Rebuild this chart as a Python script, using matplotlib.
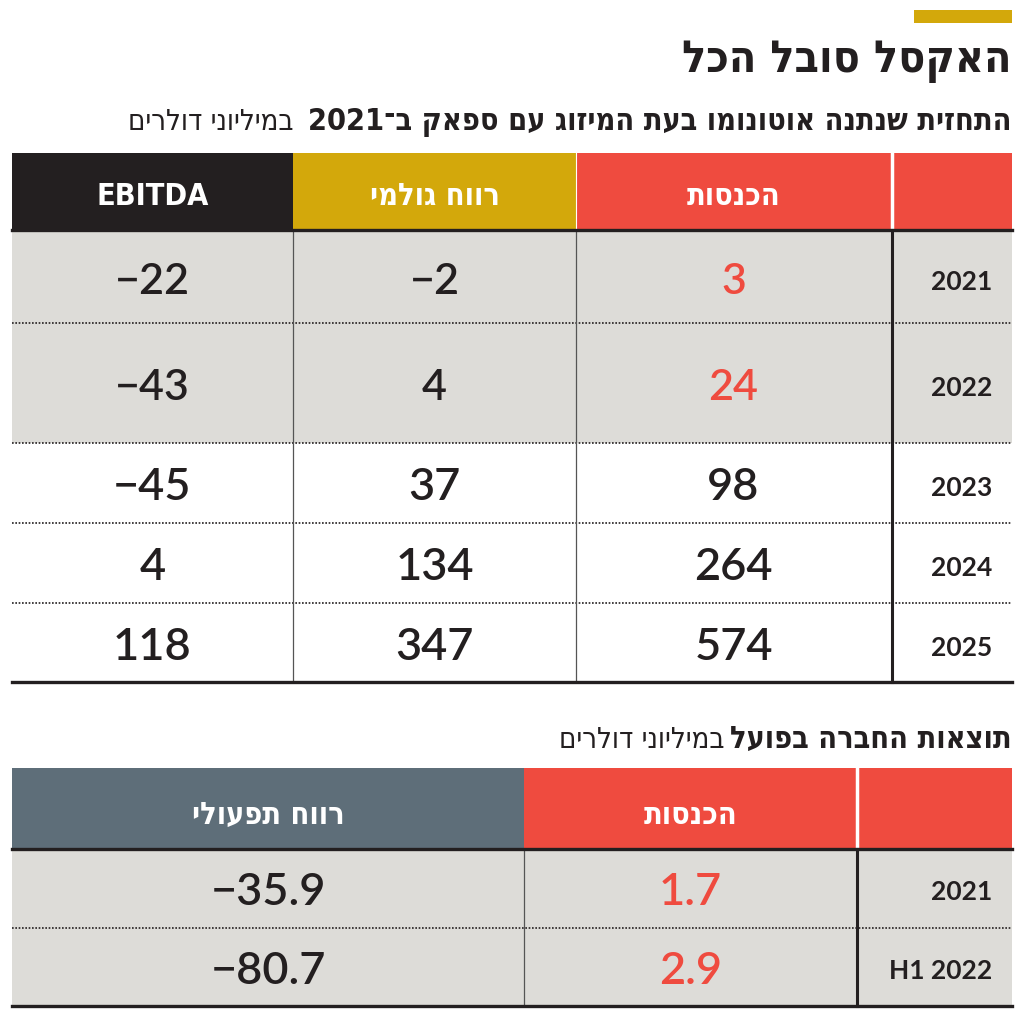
import re
import matplotlib
matplotlib.use("Agg")
import matplotlib.pyplot as plt
from matplotlib.patches import Rectangle

title = "האקסל סובל הכל"
forecast_title = "התחזית שנתנה אוטונומו בעת המיזוג עם ספאק ב־2021"
unit_note = "במיליוני דולרים"
forecast_years = ["2021", "2022", "2023", "2024", "2025"]
forecast_cols = ["הכנסות", "רווח גולמי", "EBITDA"]
revenue = [3, 24, 98, 264, 574]
gross_profit = [-2, 4, 37, 134, 347]
ebitda = [-22, -43, -45, 4, 118]

actual_title = "תוצאות החברה בפועל"
actual_periods = ["2021", "H1 2022"]
actual_cols = ["הכנסות", "רווח תפעולי"]
actual_revenue = [1.7, 2.9]
operating_profit = [-35.9, -80.7]

RED = "#ef4b3f"
GOLD = "#d3a80b"
BLACK = "#231f20"
GRAY = "#dddcd8"
SLATE = "#5e6e79"

HEB = ["DejaVu Sans"]
NUM = ["Lato", "DejaVu Sans"]


def vis(s):
    # crude bidi: flip the line, then put digit/latin runs back in order
    if not re.search("[\u0590-\u05ff]", s):
        return s
    r = s[::-1]
    return re.sub(r"[0-9A-Za-z.,\u2212]+", lambda m: m.group(0)[::-1], r)


def fmt(v):
    return ("%g" % v).replace("-", "\u2212")


fig = plt.figure(figsize=(10.24, 10.17), dpi=100)
ax = fig.add_axes([0, 0, 1, 1])
ax.set_xlim(0, 1024)
ax.set_ylim(1017, 0)
ax.axis("off")

# top accent + headings
ax.add_patch(Rectangle((914, 10), 98, 13, color=GOLD, lw=0))
ax.text(1012, 72, vis(title), ha="right", va="baseline", fontsize=32,
        fontweight="bold", family=HEB, fontstretch="condensed", color=BLACK)
t1 = ax.text(1012, 130, vis(forecast_title), ha="right", va="baseline", fontsize=22,
             fontweight="bold", family=HEB, fontstretch="condensed", color=BLACK)
fig.canvas.draw()
bb = t1.get_window_extent()
ax.text(bb.x0 - 15, 130, vis(unit_note), ha="right", va="baseline", fontsize=21,
        family=HEB, fontstretch="condensed", color=BLACK)

# ---- forecast table ----
xe = [12, 293, 576, 891, 1012]
row_edges = [230, 323, 443, 523, 603, 682]
head_top = 153

# header cells (ebitda, gross, revenue, year)
head_colors = [BLACK, GOLD, RED, RED]
for i in range(4):
    ax.add_patch(Rectangle((xe[i], head_top), xe[i + 1] - xe[i], row_edges[0] - head_top,
                           color=head_colors[i], lw=0))
ax.plot([576, 576], [head_top, row_edges[0]], color="white", lw=0.8)
ax.plot([891.5, 891.5], [head_top, row_edges[0]], color="white", lw=2.5)
labels = forecast_cols[::-1]
for i in range(3):
    ax.text((xe[i] + xe[i + 1]) / 2, 205, vis(labels[i]), ha="center", va="baseline",
            fontsize=22, fontweight="bold", family=HEB, fontstretch="condensed",
            color="white")

cols = [ebitda, gross_profit, revenue]
for r in range(len(forecast_years)):
    y0, y1 = row_edges[r], row_edges[r + 1]
    yc = (y0 + y1) / 2
    if r < 2:
        ax.add_patch(Rectangle((12, y0), 1000, y1 - y0, color=GRAY, lw=0))
    size = 31 if r < 2 else 32.5
    for c in range(3):
        col = RED if (c == 2 and r < 2) else BLACK
        ax.text((xe[c] + xe[c + 1]) / 2, yc + 17, fmt(cols[c][r]), ha="center",
                va="baseline", fontsize=size, family=NUM, fontweight="semibold", color=col)
    ax.text(992, yc + 13, forecast_years[r], ha="right", va="baseline", fontsize=19,
            family=NUM, fontweight="bold", color=BLACK)
    if r < len(forecast_years) - 1:
        ax.plot([12, 1012], [y1, y1], color=BLACK, lw=1.2, ls=(0, (1, 1)))

ax.plot([293, 293], [row_edges[0], row_edges[-1]], color="#555555", lw=0.9)
ax.plot([576, 576], [row_edges[0], row_edges[-1]], color="#555555", lw=0.9)
ax.plot([891.5, 891.5], [row_edges[0], row_edges[-1]], color=BLACK, lw=2.2)
ax.plot([12, 1012], [row_edges[0], row_edges[0]], color=BLACK, lw=2.4)
ax.plot([12, 1012], [row_edges[-1], row_edges[-1]], color=BLACK, lw=2.4)

# ---- actual results table ----
t2 = ax.text(1012, 748, vis(actual_title), ha="right", va="baseline", fontsize=22,
             fontweight="bold", family=HEB, fontstretch="condensed", color=BLACK)
fig.canvas.draw()
bb = t2.get_window_extent()
ax.text(bb.x0 - 6, 748, vis(unit_note), ha="right", va="baseline", fontsize=21,
        family=HEB, fontstretch="condensed", color=BLACK)

xe2 = [12, 524, 857, 1012]
row_edges2 = [849, 928, 1006]
head_top2 = 768
head_colors2 = [SLATE, RED, RED]
for i in range(3):
    ax.add_patch(Rectangle((xe2[i], head_top2), xe2[i + 1] - xe2[i], row_edges2[0] - head_top2,
                           color=head_colors2[i], lw=0))
ax.plot([857, 857], [head_top2, row_edges2[0]], color="white", lw=2.5)
labels2 = actual_cols[::-1]
for i in range(2):
    ax.text((xe2[i] + xe2[i + 1]) / 2, 824, vis(labels2[i]), ha="center", va="baseline",
            fontsize=22, fontweight="bold", family=HEB, fontstretch="condensed",
            color="white")

cols2 = [operating_profit, actual_revenue]
for r in range(len(actual_periods)):
    y0, y1 = row_edges2[r], row_edges2[r + 1]
    yc = (y0 + y1) / 2
    ax.add_patch(Rectangle((12, y0), 1000, y1 - y0, color=GRAY, lw=0))
    for c in range(2):
        col = RED if c == 1 else BLACK
        ax.text((xe2[c] + xe2[c + 1]) / 2, yc + 16.5, fmt(cols2[c][r]), ha="center",
                va="baseline", fontsize=32.5, family=NUM, fontweight="semibold", color=col)
    ax.text(992, yc + 12, actual_periods[r], ha="right", va="baseline", fontsize=19,
            family=NUM, fontweight="bold", color=BLACK)
    if r < len(actual_periods) - 1:
        ax.plot([12, 1012], [y1, y1], color=BLACK, lw=1.2, ls=(0, (1, 1)))

ax.plot([524, 524], [row_edges2[0], row_edges2[-1]], color="#555555", lw=0.9)
ax.plot([857, 857], [row_edges2[0], row_edges2[-1]], color=BLACK, lw=2.2)
ax.plot([12, 1012], [row_edges2[0], row_edges2[0]], color=BLACK, lw=2.4)
ax.plot([12, 1012], [row_edges2[-1], row_edges2[-1]], color=BLACK, lw=2.4)

fig.savefig("out.png", dpi=100)
